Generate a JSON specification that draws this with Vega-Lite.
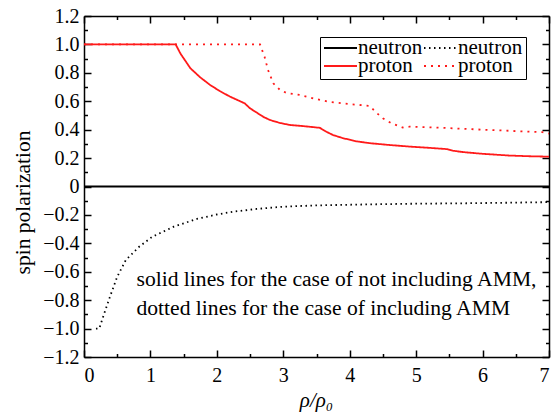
{
  "$schema": "https://vega.github.io/schema/vega-lite/v6.json",
  "width": 465,
  "height": 341,
  "autosize": "none",
  "padding": {"left": 84, "top": 16, "right": 4, "bottom": 58},
  "background": "white",
  "datasets": {
    "curves": [
      {"rho": 0, "sp": 0, "series": "neutron (no AMM)"},
      {"rho": 7, "sp": 0, "series": "neutron (no AMM)"},
      {"rho": 0.18, "sp": -1.0, "series": "neutron (AMM)"},
      {"rho": 0.23, "sp": -1.0, "series": "neutron (AMM)"},
      {"rho": 0.3, "sp": -0.9, "series": "neutron (AMM)"},
      {"rho": 0.4, "sp": -0.764, "series": "neutron (AMM)"},
      {"rho": 0.5, "sp": -0.635, "series": "neutron (AMM)"},
      {"rho": 0.63, "sp": -0.517, "series": "neutron (AMM)"},
      {"rho": 0.83, "sp": -0.424, "series": "neutron (AMM)"},
      {"rho": 1.03, "sp": -0.353, "series": "neutron (AMM)"},
      {"rho": 1.35, "sp": -0.283, "series": "neutron (AMM)"},
      {"rho": 1.7, "sp": -0.228, "series": "neutron (AMM)"},
      {"rho": 2.0, "sp": -0.197, "series": "neutron (AMM)"},
      {"rho": 2.25, "sp": -0.177, "series": "neutron (AMM)"},
      {"rho": 2.6, "sp": -0.158, "series": "neutron (AMM)"},
      {"rho": 3.0, "sp": -0.142, "series": "neutron (AMM)"},
      {"rho": 3.5, "sp": -0.133, "series": "neutron (AMM)"},
      {"rho": 4.26, "sp": -0.126, "series": "neutron (AMM)"},
      {"rho": 5.0, "sp": -0.121, "series": "neutron (AMM)"},
      {"rho": 5.76, "sp": -0.118, "series": "neutron (AMM)"},
      {"rho": 6.4, "sp": -0.114, "series": "neutron (AMM)"},
      {"rho": 7.0, "sp": -0.11, "series": "neutron (AMM)"},
      {"rho": 0, "sp": 1.0, "series": "proton (no AMM)"},
      {"rho": 1.38, "sp": 1.0, "series": "proton (no AMM)"},
      {"rho": 1.45, "sp": 0.937, "series": "proton (no AMM)"},
      {"rho": 1.6, "sp": 0.833, "series": "proton (no AMM)"},
      {"rho": 1.75, "sp": 0.768, "series": "proton (no AMM)"},
      {"rho": 1.9, "sp": 0.714, "series": "proton (no AMM)"},
      {"rho": 2.05, "sp": 0.67, "series": "proton (no AMM)"},
      {"rho": 2.2, "sp": 0.632, "series": "proton (no AMM)"},
      {"rho": 2.35, "sp": 0.6, "series": "proton (no AMM)"},
      {"rho": 2.42, "sp": 0.585, "series": "proton (no AMM)"},
      {"rho": 2.5, "sp": 0.55, "series": "proton (no AMM)"},
      {"rho": 2.6, "sp": 0.52, "series": "proton (no AMM)"},
      {"rho": 2.7, "sp": 0.49, "series": "proton (no AMM)"},
      {"rho": 2.8, "sp": 0.468, "series": "proton (no AMM)"},
      {"rho": 2.95, "sp": 0.447, "series": "proton (no AMM)"},
      {"rho": 3.1, "sp": 0.433, "series": "proton (no AMM)"},
      {"rho": 3.3, "sp": 0.425, "series": "proton (no AMM)"},
      {"rho": 3.55, "sp": 0.413, "series": "proton (no AMM)"},
      {"rho": 3.65, "sp": 0.385, "series": "proton (no AMM)"},
      {"rho": 3.75, "sp": 0.362, "series": "proton (no AMM)"},
      {"rho": 3.9, "sp": 0.34, "series": "proton (no AMM)"},
      {"rho": 4.1, "sp": 0.318, "series": "proton (no AMM)"},
      {"rho": 4.3, "sp": 0.305, "series": "proton (no AMM)"},
      {"rho": 4.6, "sp": 0.292, "series": "proton (no AMM)"},
      {"rho": 4.9, "sp": 0.281, "series": "proton (no AMM)"},
      {"rho": 5.2, "sp": 0.272, "series": "proton (no AMM)"},
      {"rho": 5.47, "sp": 0.263, "series": "proton (no AMM)"},
      {"rho": 5.55, "sp": 0.252, "series": "proton (no AMM)"},
      {"rho": 5.71, "sp": 0.242, "series": "proton (no AMM)"},
      {"rho": 6.0, "sp": 0.23, "series": "proton (no AMM)"},
      {"rho": 6.4, "sp": 0.218, "series": "proton (no AMM)"},
      {"rho": 6.7, "sp": 0.213, "series": "proton (no AMM)"},
      {"rho": 7.0, "sp": 0.21, "series": "proton (no AMM)"},
      {"rho": 0, "sp": 1.0, "series": "proton (AMM)"},
      {"rho": 2.65, "sp": 1.0, "series": "proton (AMM)"},
      {"rho": 2.72, "sp": 0.91, "series": "proton (AMM)"},
      {"rho": 2.77, "sp": 0.82, "series": "proton (AMM)"},
      {"rho": 2.85, "sp": 0.726, "series": "proton (AMM)"},
      {"rho": 2.95, "sp": 0.68, "series": "proton (AMM)"},
      {"rho": 3.05, "sp": 0.658, "series": "proton (AMM)"},
      {"rho": 3.25, "sp": 0.645, "series": "proton (AMM)"},
      {"rho": 3.5, "sp": 0.615, "series": "proton (AMM)"},
      {"rho": 3.7, "sp": 0.595, "series": "proton (AMM)"},
      {"rho": 4.0, "sp": 0.58, "series": "proton (AMM)"},
      {"rho": 4.3, "sp": 0.567, "series": "proton (AMM)"},
      {"rho": 4.4, "sp": 0.52, "series": "proton (AMM)"},
      {"rho": 4.5, "sp": 0.48, "series": "proton (AMM)"},
      {"rho": 4.63, "sp": 0.445, "series": "proton (AMM)"},
      {"rho": 4.8, "sp": 0.415, "series": "proton (AMM)"},
      {"rho": 4.9, "sp": 0.421, "series": "proton (AMM)"},
      {"rho": 5.3, "sp": 0.415, "series": "proton (AMM)"},
      {"rho": 5.9, "sp": 0.402, "series": "proton (AMM)"},
      {"rho": 6.4, "sp": 0.392, "series": "proton (AMM)"},
      {"rho": 6.7, "sp": 0.386, "series": "proton (AMM)"},
      {"rho": 6.9, "sp": 0.382, "series": "proton (AMM)"},
      {"rho": 7.0, "sp": 0.372, "series": "proton (AMM)"}
    ],
    "notes": [
      {"rho": 0.79, "sp": -0.70, "label": "solid lines for the case of not including AMM,"},
      {"rho": 0.79, "sp": -0.904, "label": "dotted lines for the case of including AMM"}
    ]
  },
  "resolve": {"axis": {"x": "independent", "y": "independent"}},
  "layer": [
    {
      "data": {"name": "curves"},
      "mark": {"type": "line", "strokeWidth": 1.8, "strokeCap": "butt", "clip": true},
      "encoding": {
        "x": {
          "field": "rho", "type": "quantitative",
          "scale": {"domain": [0, 7], "nice": false, "zero": false},
          "axis": {
            "orient": "bottom", "values": [0, 1, 2, 3, 4, 5, 6, 7],
            "tickSize": -7, "labelPadding": 15, "format": "d",
            "labelFont": "Liberation Serif", "titleFont": "Liberation Serif",
            "title": "ρ/ρ₀", "titleFontStyle": "italic", "titleFontSize": 21,
            "titleX": 232, "titleY": 43, "titleBaseline": "middle", "titleAlign": "center"
          }
        },
        "y": {
          "field": "sp", "type": "quantitative",
          "scale": {"domain": [-1.2, 1.2], "nice": false, "zero": false},
          "axis": {
            "orient": "left",
            "values": [-1.2, -1, -0.8, -0.6, -0.4, -0.2, 0, 0.2, 0.4, 0.6, 0.8, 1, 1.2],
            "tickSize": -7, "labelPadding": 12,
            "labelFont": "Liberation Serif", "titleFont": "Liberation Serif",
            "labelExpr": "datum.value === 0 ? '0' : format(datum.value, '.1f')",
            "title": "spin polarization", "titleFontSize": 21.5,
            "titleX": -61, "titleY": 186, "titleBaseline": "middle", "titleAlign": "center", "titleAngle": -90
          }
        },
        "color": {
          "field": "series", "type": "nominal",
          "scale": {
            "domain": ["neutron (no AMM)", "proton (no AMM)", "neutron (AMM)", "proton (AMM)"],
            "range": ["#000000", "#ff1a1a", "#000000", "#ff1a1a"]
          },
          "legend": {
            "orient": "none", "legendX": 236, "legendY": 21, "columns": 2, "title": null,
            "labelExpr": "split(datum.label, ' ')[0]", "labelFont": "Liberation Serif",
            "symbolType": "stroke", "symbolSize": 1089, "symbolStrokeWidth": 2,
            "clipHeight": 16, "rowPadding": -4, "columnPadding": 0, "labelOffset": 0,
            "padding": 3, "fillColor": "white", "strokeColor": "black"
          }
        },
        "strokeDash": {
          "field": "series", "type": "nominal",
          "scale": {
            "domain": ["neutron (no AMM)", "proton (no AMM)", "neutron (AMM)", "proton (AMM)"],
            "range": [[1, 0], [1, 0], [1.5, 3.5], [2, 5]]
          },
          "legend": {
            "orient": "none", "legendX": 236, "legendY": 21, "columns": 2, "title": null,
            "labelExpr": "split(datum.label, ' ')[0]", "labelFont": "Liberation Serif",
            "symbolType": "stroke", "symbolSize": 1089, "symbolStrokeWidth": 2,
            "clipHeight": 16, "rowPadding": -4, "columnPadding": 0, "labelOffset": 0,
            "padding": 3, "fillColor": "white", "strokeColor": "black"
          }
        }
      }
    },
    {
      "data": {"name": "notes"},
      "mark": {"type": "text", "align": "left", "baseline": "alphabetic", "font": "Liberation Serif", "fontSize": 21.6, "color": "black"},
      "encoding": {
        "x": {"field": "rho", "type": "quantitative", "axis": null},
        "y": {"field": "sp", "type": "quantitative", "axis": null},
        "text": {"field": "label"}
      }
    },
    {
      "data": {"name": "curves"},
      "mark": {"type": "point", "opacity": 0},
      "encoding": {
        "x": {"field": "rho", "type": "quantitative",
          "axis": {"orient": "bottom", "values": [0.5, 1.5, 2.5, 3.5, 4.5, 5.5, 6.5], "tickSize": -3.5, "labels": false, "domain": false, "title": null}},
        "y": {"field": "sp", "type": "quantitative",
          "axis": {"orient": "left", "values": [-1.1, -0.9, -0.7, -0.5, -0.3, -0.1, 0.1, 0.3, 0.5, 0.7, 0.9, 1.1], "tickSize": -3.5, "labels": false, "domain": false, "title": null}}
      }
    },
    {
      "data": {"name": "curves"},
      "mark": {"type": "point", "opacity": 0},
      "encoding": {
        "x": {"field": "rho", "type": "quantitative",
          "axis": {"orient": "top", "values": [0, 1, 2, 3, 4, 5, 6, 7], "tickSize": -7, "labels": false, "title": null}},
        "y": {"field": "sp", "type": "quantitative",
          "axis": {"orient": "right", "values": [-1.2, -1, -0.8, -0.6, -0.4, -0.2, 0, 0.2, 0.4, 0.6, 0.8, 1, 1.2], "tickSize": -7, "labels": false, "title": null}}
      }
    },
    {
      "data": {"name": "curves"},
      "mark": {"type": "point", "opacity": 0},
      "encoding": {
        "x": {"field": "rho", "type": "quantitative",
          "axis": {"orient": "top", "values": [0.5, 1.5, 2.5, 3.5, 4.5, 5.5, 6.5], "tickSize": -3.5, "labels": false, "domain": false, "title": null}},
        "y": {"field": "sp", "type": "quantitative",
          "axis": {"orient": "right", "values": [-1.1, -0.9, -0.7, -0.5, -0.3, -0.1, 0.1, 0.3, 0.5, 0.7, 0.9, 1.1], "tickSize": -3.5, "labels": false, "domain": false, "title": null}}
      }
    }
  ],
  "config": {
    "view": {"stroke": null},
    "axis": {
      "grid": false,
      "domainColor": "black", "domainWidth": 1.5,
      "tickColor": "black", "tickWidth": 1.5,
      "labelFontSize": 20, "labelColor": "black",
      "titleFontSize": 20, "titleFontWeight": "normal", "titleColor": "black"
    },
    "legend": {
      "labelFontSize": 21, "labelColor": "black"
    }
  }
}
